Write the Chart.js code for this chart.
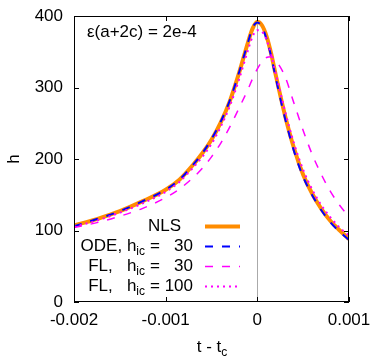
<!DOCTYPE html>
<html>
<head>
<meta charset="utf-8">
<script src="https://cdn.jsdelivr.net/npm/chart.js@4/dist/chart.umd.min.js"></script>
<style>
  body { margin: 0; background: #fff; }
  canvas { display: block; }
</style>
</head>
<body>
<canvas id="grafico" width="373" height="363"></canvas>
<script>
// valores de t - t_c (eixo x)
const tempos = [-0.002, -0.00175, -0.0015, -0.00125, -0.001, -0.00085, -0.0007, -0.0006, -0.0005, -0.0004,
    -0.0003, -0.0002, -0.0001, -0.00005, 0, 0.00005, 0.0001, 0.00015, 0.0002, 0.0003,
    0.0004, 0.0005, 0.0006, 0.0007, 0.0008, 0.0009, 0.001];

const hNLS = [107, 116, 127, 141, 157, 171, 192, 208, 227, 251,
    281, 320, 364, 383, 392, 387, 372, 348, 318, 262,
    215, 178, 151, 130, 113, 100, 88];
const hODE30 = [106, 116, 127, 141, 157, 171, 192, 208, 228, 252,
    282, 321, 364, 384, 391, 385, 368, 344, 314, 258,
    211, 175, 149, 128, 111, 98, 87];
const hFL30 = [104, 111, 120, 131, 146, 158, 174, 187, 203, 222,
    245, 271, 298, 313, 326, 336, 342, 343, 338, 316,
    278, 240, 206, 178, 154, 135, 119];
const hFL100 = [105, 114, 125, 138, 154, 168, 188, 203, 221, 245,
    274, 311, 353, 372, 380, 378, 367, 346, 320, 268,
    222, 185, 157, 135, 118, 104, 93];

const xTicks = [-0.002, -0.001, 0, 0.001];
const yTicks = [0, 100, 200, 300, 400];

// legenda: prefixo, subscrito e valor
const legendPre = ['NLS', 'ODE, h', 'FL,   h', 'FL,   h'];
const legendSub = ['', 'ic', 'ic', 'ic'];
const legendVal = ['', '30', '30', '100'];

const FONTE = "'Liberation Sans', Arial, sans-serif";

function pontos(ys) {
    return tempos.map((t, i) => ({ x: t, y: ys[i] }));
}

// desenha moldura, marcas internas, legenda e textos
const extras = {
    id: 'extras',
    afterDraw(chart) {
        const ctx = chart.ctx;
        const a = chart.chartArea;
        const sx = chart.scales.x;
        const sy = chart.scales.y;
        ctx.save();

        // moldura
        ctx.strokeStyle = '#000';
        ctx.lineWidth = 1;
        ctx.strokeRect(a.left + 0.5, a.top + 0.5, a.right - a.left - 1, a.bottom - a.top - 1);

        // marcas dos eixos (para dentro)
        ctx.beginPath();
        yTicks.forEach(v => {
            const y = Math.round(sy.getPixelForValue(v)) + 0.5;
            ctx.moveTo(a.left, y); ctx.lineTo(a.left + 5, y);
            ctx.moveTo(a.right, y); ctx.lineTo(a.right - 5, y);
        });
        xTicks.forEach(v => {
            const x = Math.round(sx.getPixelForValue(v)) + 0.5;
            ctx.moveTo(x, a.bottom); ctx.lineTo(x, a.bottom - 5);
            ctx.moveTo(x, a.top); ctx.lineTo(x, a.top + 5);
        });
        ctx.stroke();

        ctx.fillStyle = '#000';
        ctx.textBaseline = 'middle';

        // anotacao
        ctx.font = '17px ' + FONTE;
        ctx.textAlign = 'left';
        ctx.fillText('\u03b5(a+2c) = 2e-4', 87, 32);

        // titulo do eixo x com subscrito
        ctx.textAlign = 'left';
        ctx.font = '17px ' + FONTE;
        const base = 't - t';
        const wb = ctx.measureText(base).width;
        ctx.font = '12px ' + FONTE;
        const ws = ctx.measureText('c').width;
        let x0 = 212 - (wb + ws) / 2;
        ctx.font = '17px ' + FONTE;
        ctx.fillText(base, x0, 347);
        ctx.font = '12px ' + FONTE;
        ctx.fillText('c', x0 + wb, 353);

        // titulo do eixo y (girado)
        ctx.save();
        ctx.translate(14, 159);
        ctx.rotate(-Math.PI / 2);
        ctx.font = '17px ' + FONTE;
        ctx.textAlign = 'center';
        ctx.fillText('h', 0, 0);
        ctx.restore();

        // legenda
        const linhasY = [226, 246, 266, 286];
        chart.data.datasets.forEach((ds, i) => {
            const y = linhasY[i];
            ctx.textAlign = 'right';
            ctx.fillStyle = '#000';
            if (i === 0) {
                ctx.font = '17px ' + FONTE;
                ctx.fillText(legendPre[i], 181, y);
            } else {
                ctx.font = '12px ' + FONTE;
                ctx.fillText(legendSub[i], 145, y + 6);
                const wsub = ctx.measureText(legendSub[i]).width;
                ctx.font = '17px ' + FONTE;
                ctx.fillText(legendPre[i], 145 - wsub, y);
                ctx.textAlign = 'left';
                ctx.fillText('=', 150, y);
                ctx.textAlign = 'right';
                ctx.fillText(legendVal[i], 193, y);
            }
            ctx.save();
            ctx.strokeStyle = ds.borderColor;
            ctx.lineWidth = ds.borderWidth;
            ctx.setLineDash(ds.borderDash || []);
            ctx.beginPath();
            ctx.moveTo(205, y + 0.5);
            ctx.lineTo(240, y + 0.5);
            ctx.stroke();
            ctx.restore();
        });

        ctx.restore();
    }
};

const ctxGrafico = document.getElementById('grafico').getContext('2d');
new Chart(ctxGrafico, {
    type: 'line',
    data: {
        datasets: [{
            label: 'NLS',
            data: pontos(hNLS),
            borderColor: '#ff8c00',
            borderWidth: 4,
            order: 4
        }, {
            label: 'ODE, h_ic = 30',
            data: pontos(hODE30),
            borderColor: '#0000ff',
            borderWidth: 2,
            borderDash: [8, 9],
            order: 3
        }, {
            label: 'FL, h_ic = 30',
            data: pontos(hFL30),
            borderColor: '#ff00ff',
            borderWidth: 1.5,
            borderDash: [8, 9],
            order: 2
        }, {
            label: 'FL, h_ic = 100',
            data: pontos(hFL100),
            borderColor: '#ff00ff',
            borderWidth: 2,
            borderDash: [2, 4],
            order: 1
        }]
    },
    options: {
        responsive: false,
        animation: false,
        events: [],
        layout: { padding: { top: 16, right: 24, left: 0, bottom: 0 } },
        elements: {
            point: { radius: 0 },
            line: { cubicInterpolationMode: 'monotone', fill: false }
        },
        plugins: {
            legend: { display: false },
            tooltip: { enabled: false }
        },
        scales: {
            x: {
                type: 'linear',
                min: -0.002,
                max: 0.001,
                afterBuildTicks: s => { s.ticks = xTicks.map(v => ({ value: v })); },
                afterFit: s => { s.height = 61; s.paddingLeft = 0; s.paddingRight = 0; },
                ticks: {
                    color: '#000',
                    padding: 8,
                    maxRotation: 0,
                    font: { family: FONTE, size: 17 },
                    callback: v => (Math.abs(v) < 1e-9 ? '0' : v.toFixed(3))
                },
                grid: {
                    drawTicks: false,
                    color: c => (c.tick && Math.abs(c.tick.value) < 1e-9 ? '#aaaaaa' : 'rgba(0,0,0,0)')
                },
                border: { display: false }
            },
            y: {
                min: 0,
                max: 400,
                afterBuildTicks: s => { s.ticks = yTicks.map(v => ({ value: v })); },
                afterFit: s => { s.width = 74; s.paddingTop = 0; s.paddingBottom = 0; },
                ticks: {
                    color: '#000',
                    padding: 11,
                    font: { family: FONTE, size: 17 }
                },
                grid: { display: false, drawTicks: false },
                border: { display: false }
            }
        }
    },
    plugins: [extras]
});
</script>
</body>
</html>
